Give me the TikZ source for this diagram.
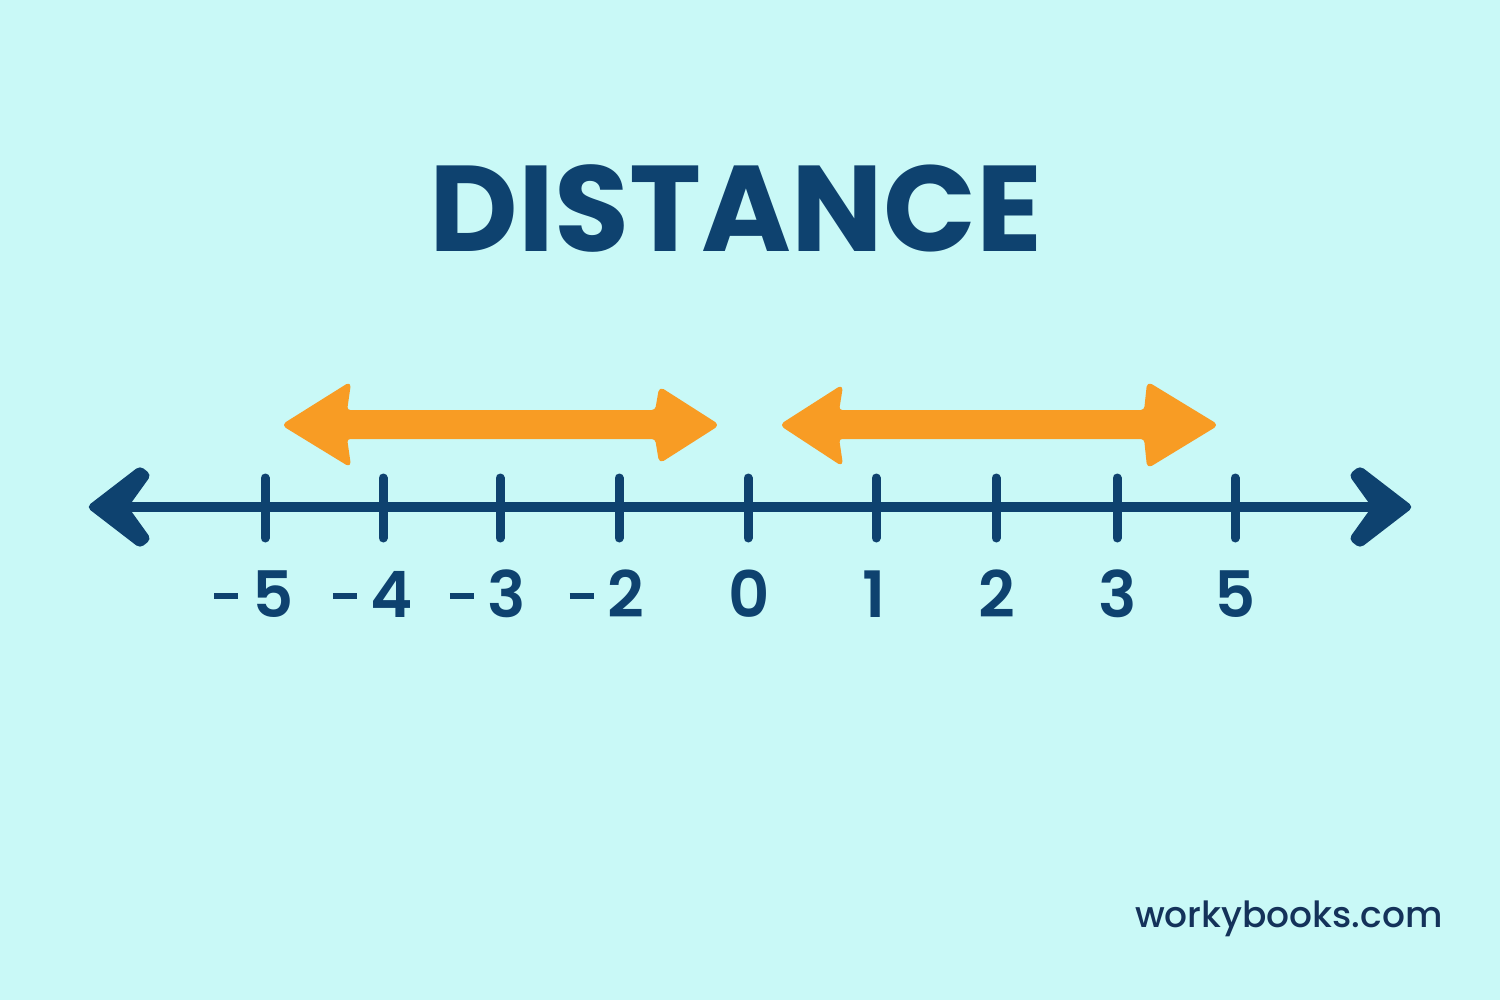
\documentclass[tikz,border=0pt]{standalone}
\usepackage{fontspec}
\setmainfont{Poppins}
\newfontfamily\semifont{Poppins SemiBold}
\newfontfamily\medfont{Poppins Medium}
\definecolor{bgc}{HTML}{C9F9F7}
\definecolor{navy}{HTML}{0E426F}
\definecolor{navytext}{HTML}{14325A}
\definecolor{orng}{HTML}{F89C24}
\begin{document}
\begin{tikzpicture}[x=0.5pt,y=-0.5pt,
  axisline/.style={navy,line width=5pt},
  tickmark/.style={navy,line width=4.5pt,line cap=round},
  headfill/.style={fill=navy,draw=navy,line width=1pt,line join=round,rounded corners=2pt},
  orangearrow/.style={fill=orng,draw=orng,line width=1pt,line join=round,rounded corners=2pt},
  numlabel/.style={navy,font=\semifont\fontsize{32pt}{36pt}\selectfont,anchor=base,inner sep=0pt}]
\fill[bgc] (0,0) rectangle (1500,1000);
\useasboundingbox (0,0) rectangle (1500,1000);

% title
\node[navy,font=\bfseries\fontsize{61pt}{66pt}\selectfont,anchor=base,inner sep=0pt] (title) at (736,252) {DISTANCE};

% orange arrows
\draw[orangearrow] (283,425) -- (350,383) -- (346,411) -- (656,411) -- (660,388) -- (718,425) -- (660,462) -- (656,438) -- (346,438) -- (350,466) -- cycle;
\draw[orangearrow] (781,425) -- (842,386) -- (838,411) -- (1145,411) -- (1148,383) -- (1217,425) -- (1148,467) -- (1145,438) -- (838,438) -- (842,465) -- cycle;

% number line
\coordinate (la) at (120,507);
\coordinate (ra) at (1380,507);
\draw[axisline] (la) -- (ra);
\draw[headfill] (88,507) -- (140,467) -- (150,475) -- (127,507) -- (150,539) -- (140,547) -- cycle;
\draw[headfill] (1412,507) -- (1360,467) -- (1350,475) -- (1373,507) -- (1350,539) -- (1360,547) -- cycle;

\foreach \x/\n in {265/m5,383/m4,500/m3,619/m2,748/z,876/p1,996/p2,1117/p3,1235/p5}{
  \coordinate (t\n a) at (\x,478);
  \coordinate (t\n b) at (\x,538);
  \draw[tickmark] (t\n a) -- (t\n b);
}

\newcommand{\negsign}{\llap{\rule[9pt]{12pt}{3.2pt}\hspace{7pt}}}
\node[numlabel] (lm5) at (273,617) {\negsign 5};
\node[numlabel] (lm4) at (392,617) {\negsign 4};
\node[numlabel] (lm3) at (507,617) {\negsign 3};
\node[numlabel] (lm2) at (626,617) {\negsign 2};
\node[numlabel] (lz) at (749,617) {0};
\node[numlabel] (lp1) at (874,617) {1};
\node[numlabel] (lp2) at (997,617) {2};
\node[numlabel] (lp3) at (1118,617) {3};
\node[numlabel] (lp5) at (1235,617) {5};

% footer
\node[navytext,font=\medfont\fontsize{18pt}{20pt}\selectfont,anchor=base east,inner sep=0pt] (site) at (1443,927) {workybooks.com};
\end{tikzpicture}
\end{document}
